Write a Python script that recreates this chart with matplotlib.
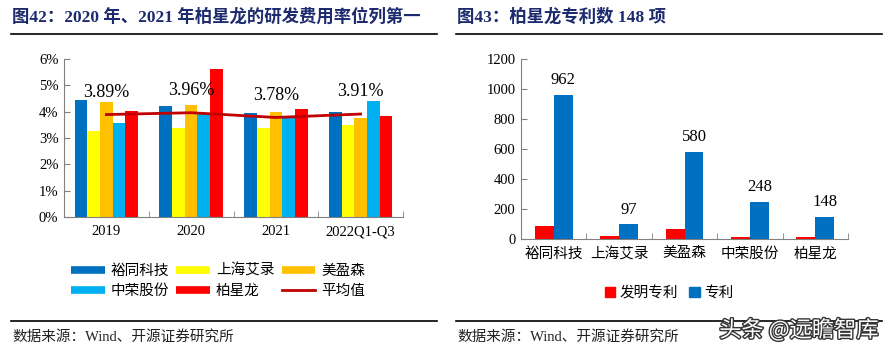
import matplotlib

matplotlib.use("Agg")
import matplotlib.pyplot as plt
import matplotlib.patheffects as pe
from matplotlib.lines import Line2D
from matplotlib.patches import Patch
from matplotlib.ticker import FuncFormatter
import numpy as np

plt.rcParams["font.family"] = ["Liberation Serif", "Noto Sans CJK SC"]

# ---- left chart data: R&D expense ratio (%) ----
periods = ["2019", "2020", "2021", "2022Q1-Q3"]
companies = ["裕同科技", "上海艾录", "美盈森", "中荣股份", "柏星龙"]
yutong = [4.43, 4.20, 3.95, 3.97]
shanghai_ailu = [3.25, 3.39, 3.39, 3.49]
meiyingsen = [4.35, 4.25, 4.00, 3.77]
zhongrong = [3.58, 3.95, 3.76, 4.39]
baixinglong = [4.01, 5.62, 4.10, 3.85]
average = [3.89, 3.96, 3.78, 3.91]

# ---- right chart data: patents ----
patent_companies = ["裕同科技", "上海艾录", "美盈森", "中荣股份", "柏星龙"]
invention_patents = [89, 22, 69, 16, 13]
patents = [962, 97, 580, 248, 148]

BAR_COLORS = ["#0070C0", "#FFFF00", "#FFC000", "#00B0F0", "#FF0000"]
AVG_COLOR = "#C00000"
TITLE_COLOR = "#1C2A6E"
W, H = 890, 353

fig = plt.figure(figsize=(W / 100, H / 100), dpi=100)


def px_axes(left, top, right, bottom):
    return fig.add_axes([left / W, 1 - bottom / H, (right - left) / W, (bottom - top) / H])


def style_axes(ax, n_cat):
    for side in ("top", "right"):
        ax.spines[side].set_visible(False)
    ax.spines["left"].set_color("#808080")
    ax.spines["bottom"].set_color("#808080")
    ax.tick_params(axis="y", direction="in", length=4, color="#808080", labelsize=10.5, pad=4)
    ax.set_xticks(np.arange(n_cat))
    ax.set_xticks(np.arange(n_cat) + 0.5, minor=True)
    ax.tick_params(axis="x", which="major", length=0, pad=6)
    ax.tick_params(axis="x", which="minor", direction="in", length=4, color="#808080")
    ax.set_xlim(-0.5, n_cat - 0.5)


def frame(x0, x1, title):
    fig.text(x0 + 12 / W, 1 - 17 / H, title, fontsize=12.5, fontweight="bold",
             color=TITLE_COLOR, va="center")
    fig.add_artist(Line2D([x0 + 11 / W, x1 - 8 / W], [1 - 34 / H] * 2, color="black", lw=1.2))
    fig.add_artist(Line2D([x0 + 11 / W, x1 - 8 / W], [1 - 321 / H] * 2, color="black", lw=1.2))
    fig.text(x0 + 12 / W, 1 - 337 / H, "数据来源：Wind、开源证券研究所", fontsize=10.5,
             va="center", color="#222222")


# ---- left chart ----
ax1 = px_axes(64, 59, 403, 217)
x = np.arange(len(periods))
series = [yutong, shanghai_ailu, meiyingsen, zhongrong, baixinglong]
bw = 0.15
for i, (vals, color) in enumerate(zip(series, BAR_COLORS)):
    ax1.bar(x + (i - 2) * bw, np.array(vals) / 100, width=bw, color=color, zorder=2)
ax1.plot(x, np.array(average) / 100, color=AVG_COLOR, lw=2, zorder=3)
for xi, v in zip(x, average):
    ax1.text(xi, v / 100 + 0.0052, f"{v:.2f}%", ha="center", va="bottom", fontsize=13)
ax1.set_ylim(0, 0.06)
ax1.set_yticks(np.arange(0, 0.061, 0.01))
ax1.yaxis.set_major_formatter(FuncFormatter(lambda v, _: f"{v * 100:.0f}%"))
style_axes(ax1, len(periods))
ax1.set_xticklabels(periods, fontsize=10.5)

handles = [Line2D([], [], color=c, lw=5.5, solid_capstyle="butt") for c in BAR_COLORS]
handles.append(Line2D([], [], color=AVG_COLOR, lw=2))
labels = companies + ["平均值"]
# legend fills column by column; this gives two rows of three
order = [0, 3, 1, 4, 2, 5]
fig.legend([handles[i] for i in order], [labels[i] for i in order], ncol=3, loc="center",
           bbox_to_anchor=(218 / W, 1 - 281 / H), frameon=False, fontsize=10.5,
           handlelength=2.3, columnspacing=0.5, handletextpad=0.4, labelspacing=0.45)

frame(0, 445 / W, "图42：2020 年、2021 年柏星龙的研发费用率位列第一")

# ---- right chart ----
ax2 = px_axes(521, 59, 848, 239)
x2 = np.arange(len(patent_companies))
bw2 = 0.29
ax2.bar(x2 - bw2 / 2, invention_patents, width=bw2, color="#FF0000", zorder=2)
ax2.bar(x2 + bw2 / 2, patents, width=bw2, color="#0070C0", zorder=2)
for xi, v in zip(x2, patents):
    ax2.text(xi + bw2 / 2, v + 45, f"{v}", ha="center", va="bottom", fontsize=12)
ax2.set_ylim(0, 1200)
ax2.set_yticks(np.arange(0, 1201, 200))
style_axes(ax2, len(patent_companies))
ax2.set_xticklabels(patent_companies, fontsize=10.5)

fig.legend([Patch(color="#FF0000"), Patch(color="#0070C0")], ["发明专利", "专利"], ncol=2,
           loc="center", bbox_to_anchor=(669 / W, 1 - 293 / H), frameon=False, fontsize=10.5,
           handlelength=0.7, handleheight=0.7, handletextpad=0.3, columnspacing=0.8)

frame(445 / W, 1.0, "图43：柏星龙专利数 148 项")

# watermark
fig.text(799 / W, 1 - 330 / H, "头条 @远瞻智库", fontsize=16, ha="center", va="center",
         color="white", family=["Noto Sans CJK SC", "DejaVu Sans"],
         path_effects=[pe.withStroke(linewidth=2, foreground="#333333")])

fig.savefig("out.png", dpi=100)
